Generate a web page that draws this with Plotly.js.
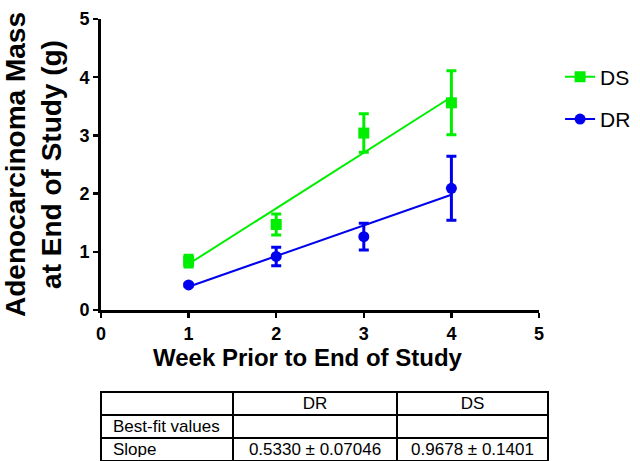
<!DOCTYPE html>
<html>
<head>
<meta charset="utf-8">
<script src="https://cdn.plot.ly/plotly-3.0.1.min.js"></script>
<style>html,body{margin:0;padding:0;background:#fff;}</style>
</head>
<body>
<div id="chart" style="width:640px;height:461px;"></div>
<script>
// ---- data ----
var weeks = [1, 2, 3, 4];
var dsMean = [0.84, 1.47, 3.04, 3.56];
var dsSem  = [0.10, 0.18, 0.33, 0.55];
var drMean = [0.43, 0.92, 1.26, 2.09];
var drSem  = [0.02, 0.16, 0.23, 0.55];
var fitX  = [1, 4];
var dsFit = [0.79, 3.66];
var drFit = [0.40, 1.98];
var xTicks = [0, 1, 2, 3, 4, 5];
var yTicks = [0, 1, 2, 3, 4, 5];
var tableHeader = ['', 'DR', 'DS'];
var tableRowLabels = ['Best-fit values', 'Slope'];
var tableDR = ['', '0.5330 ± 0.07046'];
var tableDS = ['', '0.9678 ± 0.1401'];

var GREEN = '#00ee00', BLUE = '#0000ee';
var FONT = 'Arial, "Liberation Sans", sans-serif';
var H = 442; // paper height in px (461 - top margin)
var W = 447; // paper width in px

function blank(arr) { return arr.map(function () { return ''; }); }
var tableCols = [tableRowLabels, tableDR, tableDS];

var traces = [
  {x: fitX, y: dsFit, mode: 'lines', line: {color: GREEN, width: 2}, showlegend: false, hoverinfo: 'skip'},
  {x: fitX, y: drFit, mode: 'lines', line: {color: BLUE, width: 2}, showlegend: false, hoverinfo: 'skip'},
  {x: weeks, y: dsMean, mode: 'markers', marker: {symbol: 'square', size: 11, color: GREEN},
   error_y: {type: 'data', array: dsSem, visible: true, color: GREEN, thickness: 3, width: 5}, showlegend: false},
  {x: weeks, y: drMean, mode: 'markers', marker: {symbol: 'circle', size: 11, color: BLUE},
   error_y: {type: 'data', array: drSem, visible: true, color: BLUE, thickness: 3, width: 5}, showlegend: false},
  {x: [null], y: [null], name: 'DS', legendgroup: 'a', mode: 'lines+markers',
   line: {color: GREEN, width: 2}, marker: {symbol: 'square', size: 11, color: GREEN}},
  {x: [null], y: [null], name: 'DR', legendgroup: 'b', mode: 'lines+markers',
   line: {color: BLUE, width: 2}, marker: {symbol: 'circle', size: 11, color: BLUE}},
  // table grid
  {type: 'table', domain: {x: [0, 1], y: [0, 69/H]},
   columnwidth: [132, 164, 151],
   header: {values: blank(tableHeader), height: 23,
            line: {color: 'black', width: 1.5}, fill: {color: 'white'},
            font: {family: FONT, size: 16, color: 'black'}},
   cells: {values: tableCols.map(blank), height: 23,
           line: {color: 'black', width: 1.5}, fill: {color: 'white'},
           font: {family: FONT, size: 16, color: 'black'}}},
  // table text (raised slightly to sit centred in the rows)
  {type: 'table', domain: {x: [4/W, 1], y: [4/H, 73/H]},
   columnwidth: [128, 164, 151],
   header: {values: tableHeader, height: 23, align: ['left', 'center', 'center'],
            line: {color: 'rgba(0,0,0,0)', width: 0}, fill: {color: 'rgba(0,0,0,0)'},
            font: {family: FONT, size: 17, color: 'black'}},
   cells: {values: tableCols, height: 23, align: ['left', 'center', 'center'],
           line: {color: 'rgba(0,0,0,0)', width: 0}, fill: {color: 'rgba(0,0,0,0)'},
           font: {family: FONT, size: 17, color: 'black'}}}
];

var axisCommon = {
  range: [0, 5], tickmode: 'array', showgrid: false, zeroline: false,
  showline: true, linecolor: 'black', linewidth: 3,
  ticks: 'outside', ticklen: 5, tickwidth: 2.5, tickcolor: 'black',
  tickfont: {family: FONT, size: 18, color: 'black', weight: 'bold'},
  fixedrange: true
};

var layout = {
  width: 640, height: 461,
  margin: {l: 101, r: 92, t: 19, b: 0},
  paper_bgcolor: 'white', plot_bgcolor: 'white',
  showlegend: true,
  legend: {x: 1.027, xanchor: 'left', y: 0.915, yanchor: 'top', traceorder: 'grouped',
           tracegroupgap: 12, font: {family: FONT, size: 21, color: 'black'}, bgcolor: 'rgba(0,0,0,0)'},
  xaxis: Object.assign({}, axisCommon, {
    domain: [0, 438/W], tickvals: xTicks, ticktext: xTicks.map(String)
  }),
  yaxis: Object.assign({}, axisCommon, {
    domain: [151/H, 1], tickvals: yTicks, ticktext: yTicks.map(String),
    title: {text: 'Adenocarcinoma Mass<br>at End of Study (g)', standoff: 13,
            font: {family: FONT, size: 28, color: 'black', weight: 'bold'}}
  }),
  annotations: [
    {text: 'Week Prior to End of Study', xref: 'paper', yref: 'paper',
     x: (308 - 101) / W, y: (461 - 357) / H, xanchor: 'center', yanchor: 'middle',
     borderpad: 0, showarrow: false, font: {family: FONT, size: 24, color: 'black', weight: 'bold'}}
  ]
};

Plotly.newPlot('chart', traces, layout, {displayModeBar: false, staticPlot: true});
</script>
</body>
</html>
